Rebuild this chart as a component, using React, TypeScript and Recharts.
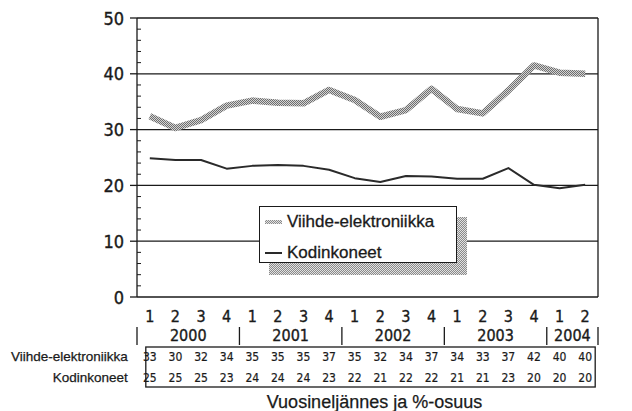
import React from 'react';
import { LineChart, Line, XAxis, YAxis, ReferenceLine } from 'recharts';

const quarters = [1, 2, 3, 4, 1, 2, 3, 4, 1, 2, 3, 4, 1, 2, 3, 4, 1, 2];
const yearLabels = ['2000', '2001', '2002', '2003', '2004'];
const viihde = [32.4, 30.3, 31.7, 34.3, 35.2, 34.8, 34.7, 37.1, 35.3, 32.3, 33.5, 37.3, 33.7, 32.9, 37.0, 41.5, 40.2, 40.0];
const kodin = [24.85, 24.55, 24.55, 23.0, 23.5, 23.65, 23.5, 22.8, 21.3, 20.6, 21.7, 21.6, 21.2, 21.2, 23.1, 20.1, 19.5, 20.1];
const viihdeTable = [33, 30, 32, 34, 35, 35, 35, 37, 35, 32, 34, 37, 34, 33, 37, 42, 40, 40];
const kodinTable = [25, 25, 25, 23, 24, 24, 24, 23, 22, 21, 22, 22, 21, 21, 23, 20, 20, 20];
const majorTicks = [0, 10, 20, 30, 40, 50];
const allTicks = [0, 2, 4, 6, 8, 10, 12, 14, 16, 18, 20, 22, 24, 26, 28, 30, 32, 34, 36, 38, 40, 42, 44, 46, 48, 50];
const gridValues = [10, 20, 30, 40, 50];
const seriesNames = ['Viihde-elektroniikka', 'Kodinkoneet'];
const axisTitle = 'Vuosineljännes ja %-osuus';

const W = 632;
const H = 411;
const LEFT_W = 137;
const RIGHT_W = 34;
const PLOT_W = W - LEFT_W - RIGHT_W;
const N = quarters.length;
const STEP = PLOT_W / N;

const DIGIT_FONT = '"Liberation Sans Narrow", "DejaVu Sans Condensed", "Liberation Sans", Arial, sans-serif';
const TEXT_FONT = '"Liberation Sans", Arial, sans-serif';
const INK = '#1a1a1a';
const TXT = { fill: INK, stroke: INK, strokeWidth: 0.35 };

const data = quarters.map((q, i) => ({ pos: i + 1, q, viihde: viihde[i], kodin: kodin[i] }));
const positions = data.map((d) => d.pos);

// year groups
const groups: { start: number; end: number; label: string }[] = [];
quarters.forEach((q, i) => {
  if (q === 1 || i === 0) groups.push({ start: i + 1, end: i + 1, label: yearLabels[groups.length] });
  else groups[groups.length - 1].end = i + 1;
});
const separators = [...groups.map((g) => g.start - 0.5), groups[groups.length - 1].end + 0.5];
const centers = groups.map((g) => (g.start + g.end) / 2);
const yearTicks = [...separators, ...centers].sort((a, b) => a - b);

const LeftTick = (props: any) => {
  const { x, y, payload } = props;
  const v = payload.value;
  if (majorTicks.includes(v)) {
    return (
      <g>
        <line x1={x - 7} x2={x} y1={y} y2={y} stroke={INK} strokeWidth={1.3} />
        <text x={x - 13} y={y + 6.5} textAnchor="end" fontFamily={DIGIT_FONT} fontSize={18} {...TXT}>{v}</text>
      </g>
    );
  }
  return <line x1={x} x2={x + 4} y1={y} y2={y} stroke={INK} strokeWidth={1} />;
};

const RightTick = (props: any) => {
  const { x, y, payload } = props;
  const v = payload.value;
  if (majorTicks.includes(v)) {
    return (
      <g>
        <line x1={x} x2={x + 7} y1={y} y2={y} stroke={INK} strokeWidth={1.3} />
        <text x={x + 14} y={y + 6.5} textAnchor="start" fontFamily={DIGIT_FONT} fontSize={18} {...TXT}>{v}</text>
      </g>
    );
  }
  return <line x1={x - 4} x2={x} y1={y} y2={y} stroke={INK} strokeWidth={1} />;
};

const QuarterTick = (props: any) => {
  const { x, y, payload } = props;
  return (
    <text x={x} y={y + 25} textAnchor="middle" fontFamily={DIGIT_FONT} fontSize={16} {...TXT}>
      {quarters[payload.value - 1]}
    </text>
  );
};

const YearTick = (props: any) => {
  const { x, y, payload } = props;
  const v = payload.value;
  if (separators.includes(v)) {
    return <line x1={x} x2={x} y1={y + 2} y2={y + 20} stroke={INK} strokeWidth={1.3} />;
  }
  const g = groups[centers.indexOf(v)];
  return (
    <text x={x} y={y + 16} textAnchor="middle" fontFamily={DIGIT_FONT} fontSize={16} {...TXT}>
      {g ? g.label : ''}
    </text>
  );
};

const makeRowTick = (values: number[], label: string, dy: number, withBox: boolean) => (props: any) => {
  const { x, y, payload } = props;
  const i = payload.value - 1;
  return (
    <g>
      {withBox && i === 0 ? (
        <rect x={x - 4} y={y} width={STEP * (N - 1) + 14} height={40} fill="none" stroke={INK} strokeWidth={1.3} />
      ) : null}
      {i === 0 ? (
        <text x={x - 22} y={y + dy} textAnchor="end" fontFamily={TEXT_FONT} fontSize={13.5} {...TXT} strokeWidth={0.25}>{label}</text>
      ) : null}
      <text x={x} y={y + dy} textAnchor="middle" fontFamily={DIGIT_FONT} fontSize={12} {...TXT} strokeWidth={0.2}>{values[i]}</text>
    </g>
  );
};
const Row1Tick = makeRowTick(viihdeTable, seriesNames[0], 14, true);
const Row2Tick = makeRowTick(kodinTable, seriesNames[1], 15, false);

const TitleTick = (props: any) => {
  const { x, y } = props;
  return (
    <text x={x} dx={7} y={y + 21} textAnchor="middle" fontFamily={TEXT_FONT} fontSize={18} {...TXT} strokeWidth={0.25}>{axisTitle}</text>
  );
};

const checkerCss = 'repeating-conic-gradient(#8a8a8a 0 25%, #e2e2e2 0 50%) 0 0 / 2px 2px';

export default function App() {
  const xCommon = {
    type: 'number' as const,
    dataKey: 'pos',
    domain: [0.5, N + 0.5],
    interval: 0 as const,
    tickLine: false,
    tickSize: 0,
    tickMargin: 0,
    axisLine: false,
    allowDataOverflow: true,
  };
  return (
    <div style={{ position: 'absolute', left: 0, top: 0, width: W, height: H, background: '#fff' }}>
      <LineChart width={W} height={H} data={data} margin={{ top: 18, right: 0, bottom: 0, left: 0 }}>
        <defs>
          <pattern id="checker" width="2" height="2" patternUnits="userSpaceOnUse">
            <rect width="2" height="2" fill="#d4d4d4" />
            <rect width="1" height="1" fill="#6e6e6e" />
            <rect x="1" y="1" width="1" height="1" fill="#6e6e6e" />
          </pattern>
        </defs>
        <XAxis xAxisId="a_q" {...xCommon} height={28} ticks={positions} tick={<QuarterTick />} axisLine={{ stroke: INK, strokeWidth: 1.3 }} />
        <XAxis xAxisId="b_yr" {...xCommon} height={22} ticks={yearTicks} tick={<YearTick />} />
        <XAxis xAxisId="c_r1" {...xCommon} height={20} ticks={positions} tick={<Row1Tick />} />
        <XAxis xAxisId="d_r2" {...xCommon} height={20} ticks={positions} tick={<Row2Tick />} />
        <XAxis xAxisId="e_t" {...xCommon} height={24} ticks={[(N + 1) / 2]} tick={<TitleTick />} />
        <YAxis yAxisId="l" orientation="left" width={LEFT_W} type="number" domain={[0, 50]} ticks={allTicks} interval={0}
          tickLine={false} tickSize={0} tickMargin={0} axisLine={{ stroke: INK, strokeWidth: 1.3 }} tick={<LeftTick />} />
        <YAxis yAxisId="r" orientation="right" width={RIGHT_W} type="number" domain={[0, 50]} ticks={allTicks} interval={0}
          tickLine={false} tickSize={0} tickMargin={0} axisLine={{ stroke: INK, strokeWidth: 1.3 }} tick={<RightTick />} />
        {gridValues.map((v) => (
          <ReferenceLine key={v} xAxisId="a_q" yAxisId="l" y={v} stroke={INK} strokeWidth={1.3} />
        ))}
        <Line xAxisId="a_q" yAxisId="l" dataKey="viihde" name={seriesNames[0]} stroke="url(#checker)" strokeWidth={6.5}
          dot={false} activeDot={false} isAnimationActive={false} strokeLinejoin="round" strokeLinecap="butt" />
        <Line xAxisId="a_q" yAxisId="l" dataKey="kodin" name={seriesNames[1]} stroke="#2a2a2a" strokeWidth={2}
          dot={false} activeDot={false} isAnimationActive={false} strokeLinejoin="round" />
      </LineChart>
      <div style={{ position: 'absolute', left: 269, top: 217, width: 198, height: 58, background: checkerCss }} />
      <div style={{ position: 'absolute', left: 259, top: 206, width: 198, height: 57, boxSizing: 'border-box', border: `1.5px solid ${INK}`, background: '#fff' }}>
        {seriesNames.map((name, i) => (
          <div key={name} style={{ position: 'absolute', left: 5, top: i === 0 ? 3 : 34, height: 24, display: 'flex', alignItems: 'center' }}>
            {i === 0 ? (
              <div style={{ width: 17, height: 4, background: checkerCss }} />
            ) : (
              <div style={{ width: 17, height: 2, background: '#2a2a2a' }} />
            )}
            <span style={{ marginLeft: 5, fontFamily: TEXT_FONT, fontSize: 17, color: INK, lineHeight: '24px', WebkitTextStroke: '0.3px #1a1a1a' }}>{name}</span>
          </div>
        ))}
      </div>
    </div>
  );
}
